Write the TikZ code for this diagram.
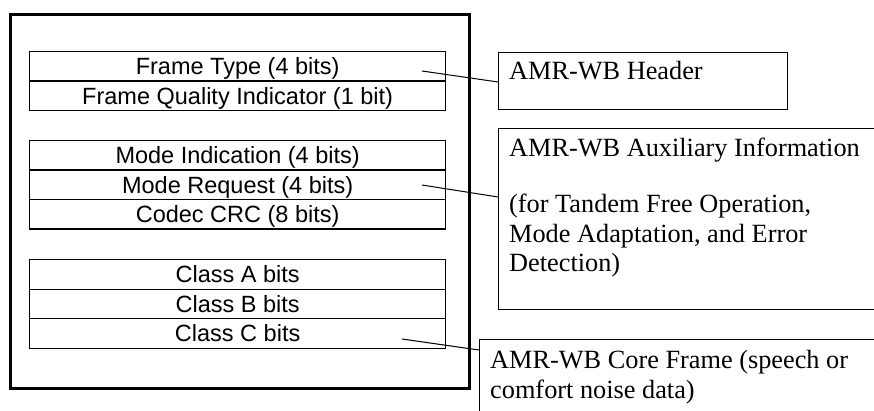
\documentclass[tikz,border=0pt]{standalone}
\usepackage{fontspec}
\newfontfamily\arialf{Liberation Sans}
\newfontfamily\timesf{Liberation Serif}
\begin{document}
\begin{tikzpicture}[x=1pt,y=-1pt,
  rowbox/.style={draw, line width=1.3pt, inner sep=0pt, minimum width=416pt, minimum height=29.5pt,
    text height=16.8pt, text depth=0pt, font=\arialf\fontsize{23.5}{28}\selectfont, anchor=north west},
  infobox/.style={draw, line width=1.3pt, inner sep=0pt, anchor=north west},
  infotext/.style={anchor=base west, inner sep=0pt, font=\timesf\fontsize{26.3}{30}\selectfont},
  conn/.style={line width=1pt}]
\useasboundingbox (0,0) rectangle (874,411);
\clip (0,0) rectangle (874,411);
% outer frame
\node[draw, line width=3.3pt, inner sep=0pt, minimum width=459pt, minimum height=374pt, anchor=north west] (outer) at (9,13) {};
% header rows
\node[rowbox] (ft) at (29,51) {Frame Type (4 bits)};
\node[rowbox] (fq) at (29,80.5) {Frame Quality Indicator (1 bit)};
% auxiliary rows
\node[rowbox] (mi) at (29,140) {Mode Indication (4 bits)};
\node[rowbox] (mr) at (29,169.5) {Mode Request (4 bits)};
\node[rowbox] (crc) at (29,199) {Codec CRC (8 bits)};
% core rows
\node[rowbox] (ca) at (29,259) {Class A bits};
\node[rowbox] (cb) at (29,288.5) {Class B bits};
\node[rowbox] (cc) at (29,318) {Class C bits};
% right boxes
\node[infobox, minimum width=289pt, minimum height=57pt] (hdr) at (498,52) {};
\node[infobox, minimum width=400pt, minimum height=181pt] (aux) at (498,128) {};
\node[infobox, minimum width=420pt, minimum height=100pt] (core) at (479,339) {};
% texts
\node[infotext] (hdrt) at (509,80) {AMR-WB Header};
\node[infotext] (auxt1) at (509,156.5) {AMR-WB Auxiliary Information};
\node[infotext] (auxt2) at (509,213) {(for Tandem Free Operation,};
\node[infotext] (auxt3) at (509,242.5) {Mode Adaptation, and Error};
\node[infotext] (auxt4) at (509,272) {Detection)};
\node[infotext] (coret1) at (490,368) {AMR-WB Core Frame (speech or};
\node[infotext] (coret2) at (490,398) {comfort noise data)};
% connector ends
\coordinate (c1) at (422,71);
\coordinate (c2) at (422,185);
\coordinate (c3) at (402,339);
\draw[conn] (c1) -- (hdr.west |- 0,82);
\draw[conn] (c2) -- (aux.west |- 0,197);
\draw[conn] (c3) -- (core.west |- 0,350);
\end{tikzpicture}
\end{document}
